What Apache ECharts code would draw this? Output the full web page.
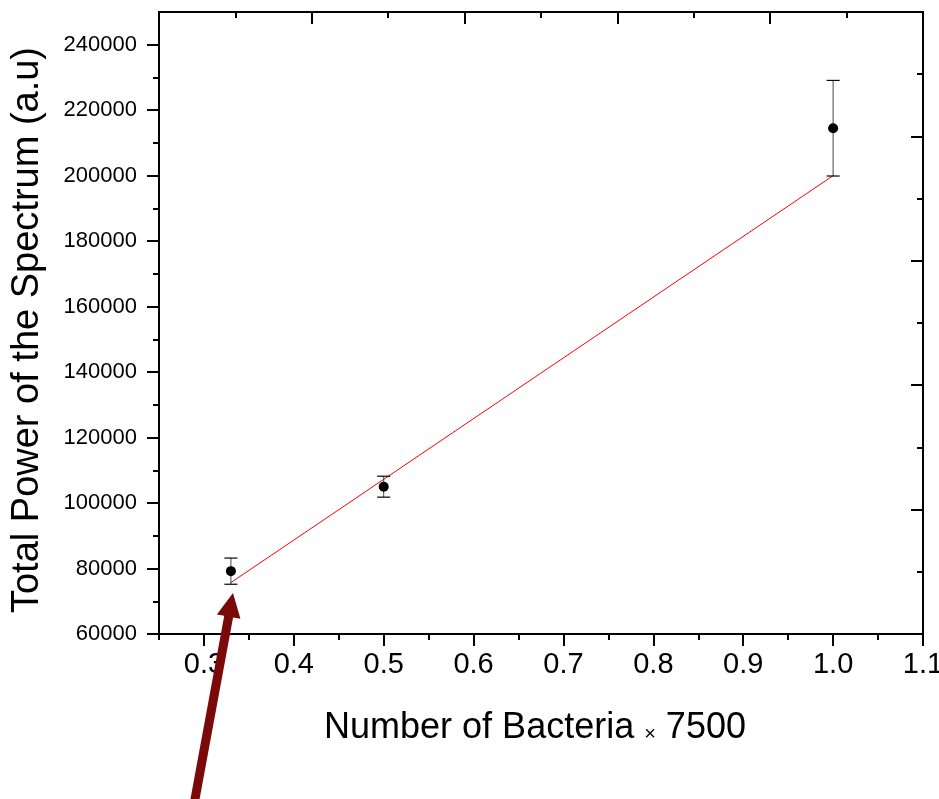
<!DOCTYPE html>
<html>
<head>
<meta charset="utf-8">
<script src="https://cdn.jsdelivr.net/npm/echarts@6/dist/echarts.min.js"></script>
<style>
html,body{margin:0;padding:0;background:#fff;overflow:hidden;}
#chart{width:939px;height:799px;}
</style>
</head>
<body>
<div id="chart"></div>
<script>
// ---- data ----
const xValues = [0.33, 0.5, 1.0];
const yValues = [79200, 105000, 214500];
const yErrors = [4000, 3200, 14600];
const fitX = [0.33, 1.0];
const fitY = [75700, 200000];
const xTickValues = [0.3, 0.4, 0.5, 0.6, 0.7, 0.8, 0.9, 1.0, 1.1];
const xMinorTickValues = [0.25, 0.35, 0.45, 0.55, 0.65, 0.75, 0.85, 0.95, 1.05];
const yTickValues = [60000, 80000, 100000, 120000, 140000, 160000, 180000, 200000, 220000, 240000];
const yMinorTickValues = [70000, 90000, 110000, 130000, 150000, 170000, 190000, 210000, 230000];

const FONT = '"Liberation Sans", Arial, sans-serif';
const chart = echarts.init(document.getElementById('chart'));

const pointData = xValues.map((x, i) => [x, yValues[i]]);
const errData = xValues.map((x, i) => [x, yValues[i] - yErrors[i], yValues[i] + yErrors[i]]);
const fitData = fitX.map((x, i) => [x, fitY[i]]);

const lineStyle = {color: '#000', width: 2};
const option = {
  animation: false,
  backgroundColor: '#fff',
  grid: {left: 159, right: 16, top: 12, bottom: 165, containLabel: false, outerBoundsMode: 'none'},
  xAxis: [
    {
      type: 'value', position: 'bottom', min: 0.25, max: 1.1,
      axisLine: {show: true, onZero: false, lineStyle: lineStyle},
      axisTick: {show: true, inside: false, length: 12, lineStyle: {color: '#000', width: 2}, customValues: xTickValues},
      axisLabel: {show: true, customValues: xTickValues, margin: 16, color: '#000', fontFamily: FONT, fontSize: 29,
        formatter: v => v.toFixed(1)},
      splitLine: {show: false},
      name: 'Number of Bacteria {s|×} 7500',
      nameLocation: 'middle', nameGap: 76,
      nameTextStyle: {color: '#000', fontFamily: FONT, fontSize: 36, padding: [0, 12, 0, 0],
        rich: {s: {fontSize: 20, fontFamily: FONT, color: '#000', verticalAlign: 'bottom', padding: [0,0,2,0]}}}
    },
    {
      type: 'value', position: 'bottom', min: 0.25, max: 1.1,
      axisLine: {show: false, onZero: false},
      axisTick: {show: true, inside: false, length: 6, lineStyle: {color: '#000', width: 2}, customValues: xMinorTickValues},
      axisLabel: {show: false},
      splitLine: {show: false}
    },
    {
      type: 'value', position: 'top', min: 0, max: 5, interval: 1,
      axisLine: {show: true, onZero: false, lineStyle: lineStyle},
      axisTick: {show: true, inside: true, length: 12, lineStyle: {color: '#000', width: 2}},
      minorTick: {show: true, splitNumber: 2, length: 6, lineStyle: {color: '#000', width: 2}},
      axisLabel: {show: false},
      splitLine: {show: false}
    }
  ],
  yAxis: [
    {
      type: 'value', position: 'left', min: 60000, max: 250000,
      axisLine: {show: true, onZero: false, lineStyle: lineStyle},
      axisTick: {show: true, inside: false, length: 12, lineStyle: {color: '#000', width: 2}, customValues: yTickValues},
      axisLabel: {show: true, customValues: yTickValues, margin: 22, color: '#000', fontFamily: FONT, fontSize: 22,
        formatter: v => String(v)},
      splitLine: {show: false},
      name: 'Total Power of the Spectrum (a.u)',
      nameLocation: 'middle', nameGap: 112,
      nameTextStyle: {color: '#000', fontFamily: FONT, fontSize: 38, padding: [0, 14, 0, 0]}
    },
    {
      type: 'value', position: 'left', min: 60000, max: 250000,
      axisLine: {show: false, onZero: false},
      axisTick: {show: true, inside: false, length: 6, lineStyle: {color: '#000', width: 2}, customValues: yMinorTickValues},
      axisLabel: {show: false},
      splitLine: {show: false}
    },
    {
      type: 'value', position: 'right', min: 0, max: 5, interval: 1,
      axisLine: {show: true, onZero: false, lineStyle: lineStyle},
      axisTick: {show: true, inside: true, length: 12, lineStyle: {color: '#000', width: 2}},
      minorTick: {show: true, splitNumber: 2, length: 6, lineStyle: {color: '#000', width: 2}},
      axisLabel: {show: false},
      splitLine: {show: false}
    }
  ],
  series: [
    {
      type: 'line', xAxisIndex: 0, yAxisIndex: 0, data: fitData,
      showSymbol: false, symbol: 'none',
      lineStyle: {color: '#ff0000', width: 1}, z: 3
    },
    {
      type: 'custom', xAxisIndex: 0, yAxisIndex: 0, data: errData,
      renderItem: function (params, api) {
        const x = api.value(0);
        const lo = api.coord([x, api.value(1)]);
        const hi = api.coord([x, api.value(2)]);
        const cap = 6.5;
        const st = {stroke: '#444', lineWidth: 1};
        const cs = {stroke: '#000', lineWidth: 1.2};
        return {
          type: 'group',
          children: [
            {type: 'line', shape: {x1: lo[0], y1: lo[1], x2: hi[0], y2: hi[1]}, style: st},
            {type: 'line', shape: {x1: lo[0] - cap, y1: lo[1], x2: lo[0] + cap, y2: lo[1]}, style: cs},
            {type: 'line', shape: {x1: hi[0] - cap, y1: hi[1], x2: hi[0] + cap, y2: hi[1]}, style: cs}
          ]
        };
      },
      z: 4
    },
    {
      type: 'scatter', xAxisIndex: 0, yAxisIndex: 0, data: pointData,
      symbol: 'circle', symbolSize: 10,
      itemStyle: {color: '#000', opacity: 1}, z: 5
    }
  ]
};
chart.setOption(option);

// annotation arrow (dark red), pointing at the first data point
(function () {
  const tip = [233, 593], tail = [193, 810];
  const dx = tip[0] - tail[0], dy = tip[1] - tail[1];
  const len = Math.hypot(dx, dy);
  const u = [dx / len, dy / len];
  const n = [-u[1], u[0]];
  const headLen = 24, headHalf = 12, shaftHalf = 4.5;
  const base = [tip[0] - u[0] * headLen, tip[1] - u[1] * headLen];
  const p = (pt, k) => [pt[0] + n[0] * k, pt[1] + n[1] * k];
  const pts = [p(tail, shaftHalf), p(base, shaftHalf), p(base, headHalf), tip,
               p(base, -headHalf), p(base, -shaftHalf), p(tail, -shaftHalf)];
  chart.setOption({
    graphic: [{type: 'polygon', shape: {points: pts}, style: {fill: '#7a0a0a'}, z: 10}]
  });
})();
</script>
</body>
</html>
